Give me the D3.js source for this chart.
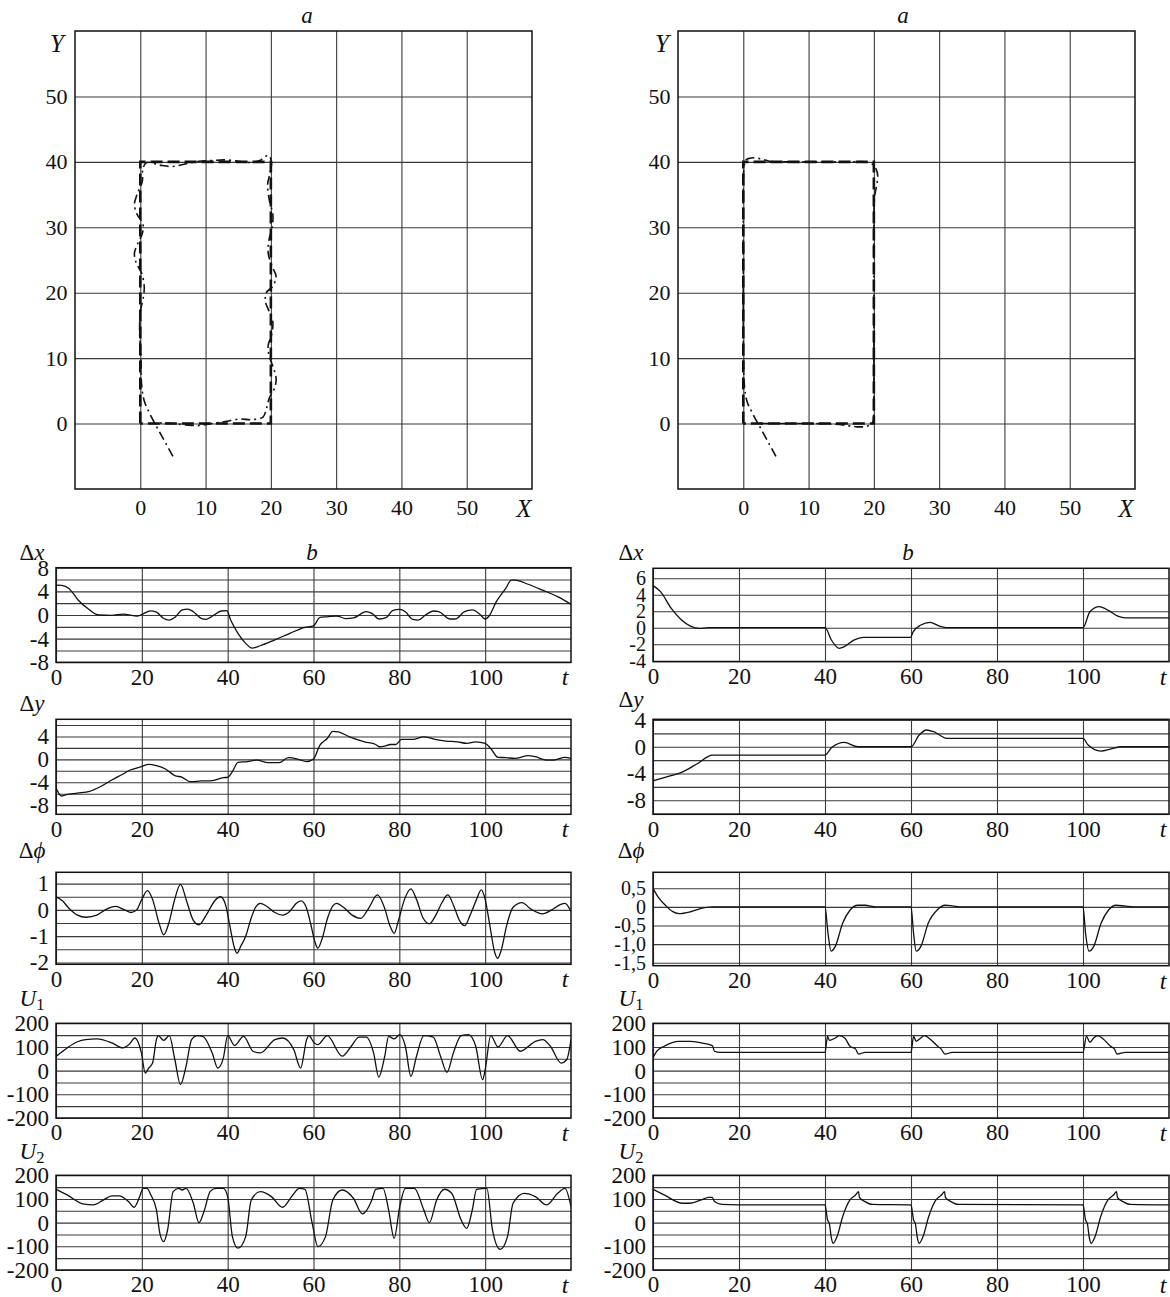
<!DOCTYPE html>
<html>
<head>
<meta charset="utf-8">
<script src="https://cdn.jsdelivr.net/npm/d3@7"></script>
<style>
  body { margin: 0; background: #fff; }
  svg { display: block; }
  text { font-family: "Liberation Serif", "DejaVu Serif", serif; fill: #111; }
</style>
</head>
<body>
<svg id="chart" width="1170" height="1297"></svg>
<script>
// ---------- plane (X, Y) plots ----------
const planeTicks = [0, 10, 20, 30, 40, 50];
const planeDomain = [-10, 60];

// desired rectangular route
const routePath = [[0, 0], [0, 40], [20, 40], [20, 0], [0, 0]];

// robot path, PD controller (left)
const robotLeft = [
  [5, -5], [3.9, -3], [2.8, -1], [1.6, 1.2], [0.6, 3.5], [0.2, 6], [0.1, 10], [-0.1, 14], [0, 17],
  [0.5, 19.5], [0.6, 21], [0.2, 23], [-0.6, 24.5], [-0.9, 26], [-0.4, 27.5], [0.3, 29], [0.4, 30.5],
  [-0.5, 32], [-0.9, 33.5], [-0.5, 35], [0.3, 37], [0.4, 39], [1, 39.9], [3, 39.5], [5, 39.3],
  [7, 39.7], [9, 40.1], [11, 40.2], [13, 40.3], [15, 40.1], [17, 39.9], [18.5, 40.3], [19.6, 41],
  [20.1, 40], [19.8, 38], [19.5, 36.5], [19.8, 34], [20.3, 32], [20.2, 30], [19.7, 28], [19.6, 26],
  [20.2, 24], [20.8, 22.5], [20.3, 21], [19.3, 20], [19.2, 18.5], [19.8, 17], [20.3, 15.5],
  [20.1, 13.5], [19.6, 12], [19.7, 10.5], [20.4, 8.5], [20.8, 7], [20.6, 5.5], [19.8, 4],
  [19.3, 2.2], [18.8, 1], [17, 0.6], [15.3, 0.7], [13, 0.3], [11, 0], [9, -0.3], [7, -0.2],
  [5, 0], [3.5, 0.1], [2.2, 0]
];

// robot path, second controller (right)
const robotRight = [
  [5, -5], [3.9, -3], [2.7, -0.8], [1.5, 1.4], [0.6, 3.3], [0.2, 5.5], [0.05, 9], [0, 15], [0, 22],
  [0, 30], [0, 36], [0.1, 39], [0.4, 40.3], [1.2, 40.6], [2.5, 40.5], [4, 40.1], [7, 40], [12, 40],
  [16, 40], [18.5, 40], [19.7, 39.7], [20.3, 39], [20.6, 37.8], [20.4, 36.3], [20.1, 34.5], [20, 30],
  [20, 20], [20, 10], [20, 4], [20, 1.5], [19.8, 0.1], [19, -0.4], [17.5, -0.5], [16, -0.3],
  [14, -0.1], [11, 0], [7, 0], [4, 0], [2.2, 0]
];

// ---------- time plots ----------
const timeTicks = [0, 20, 40, 60, 80, 100];

const dxLeft = [
  [0, 5.05], [1.3, 5], [3, 4.5], [5.2, 2.5], [7.4, 1.1], [10, 0], [13, -0.05], [15.6, 0.15], [19, -0.2],
  [20.3, 0.2], [22, 0.7], [23.4, 0.5], [25, -0.55], [26.4, -0.85], [27.7, -0.4], [29.4, 0.85],
  [30.7, 1.0], [32, 0.56], [33.8, -0.56], [35, -0.73], [36.8, 0], [38.5, 0.68], [39.8, 0.73],
  [40.7, -0.85], [42.4, -3.1], [44.2, -4.8], [45.7, -5.6], [47.6, -5.2], [51, -4.2], [54.5, -3.1],
  [58, -2.1], [60, -1.85], [61.5, -0.4], [63.2, -0.3], [65.4, -0.17], [67.5, -0.6], [69.3, -0.5],
  [72.3, 0.56], [73.6, 0.28], [75.3, -0.68], [77, -0.4], [78.4, 0.73], [80.1, 0.96], [81.4, 0.56],
  [83.1, -0.73], [84.4, -0.85], [86.1, 0], [87.9, 0.68], [89.2, 0.56], [91.8, -0.68], [93, -0.68],
  [95.2, 0.56], [97, 0.85], [98.7, 0.17], [100, -0.68], [100.9, -0.17], [102.6, 2.25], [104.8, 4.5],
  [106.1, 5.9], [107, 5.9], [110, 5.2], [113.4, 4.2], [116.9, 3.1], [120, 1.8]
];

const dyLeft = [
  [0, -5.0], [1.3, -6.4], [2.2, -6.2], [5, -5.9], [7.8, -5.6], [10.5, -4.7], [13, -3.6], [15.5, -2.6],
  [17.3, -1.86], [19.9, -1.28], [21.6, -0.87], [23.4, -1.1], [25.5, -1.68], [27.7, -2.84],
  [29.4, -3.13], [31.2, -3.9], [33.8, -3.77], [36.4, -3.7], [39, -3.2], [40, -3.13], [41.1, -2.14],
  [42.4, -0.52], [44.6, -0.4], [46.8, -0.12], [49.4, -0.58], [52, -0.58], [54.1, 0.29], [56.3, 0.06],
  [58.4, -0.4], [60, 0.06], [61.5, 2.5], [63.2, 3.65], [64.5, 4.9], [65.8, 4.8], [68.4, 3.94],
  [71.9, 3.07], [74.5, 2.6], [75.3, 2.2], [76.6, 2.3], [77.9, 2.6], [79.2, 2.6], [80.5, 3.5],
  [83.1, 3.5], [85.7, 3.94], [88.3, 3.5], [90.9, 3.2], [93.5, 3.07], [95.7, 2.8], [97.8, 3.07],
  [100, 2.8], [101.3, 1.9], [103, 0.35], [104.8, 0.3], [106.9, 0.17], [110, 0.64], [111.7, 0.46],
  [114.3, -0.12], [116, -0.12], [118.6, 0.35], [120, 0.17]
];

const phiLeft = [
  [0, 0.5], [1.5, 0.35], [3, 0.06], [5, -0.2], [7, -0.28], [9.5, -0.2], [12, 0.05], [13.9, 0.13],
  [16, 0.0], [17.5, -0.1], [18.8, 0], [20, 0.4], [21.3, 0.73], [22.5, 0.4], [24, -0.5], [25.1, -0.95],
  [26.3, -0.5], [27.5, 0.3], [29, 0.97], [30.5, 0.3], [32, -0.4], [33.3, -0.57], [35, -0.2],
  [37, 0.35], [38.3, 0.5], [39.5, 0.2], [40.5, -0.6], [41.5, -1.4], [42.2, -1.65], [43, -1.4],
  [44.2, -1.0], [45.5, -0.3], [46.5, 0.1], [47.6, 0.25], [49, 0.15], [51, -0.1], [52.8, -0.2],
  [54.5, -0.05], [56, 0.25], [57.1, 0.34], [58.3, 0.1], [59.3, -0.5], [60.3, -1.2], [61, -1.46],
  [62, -1.1], [63.3, -0.3], [64.5, 0.15], [65.4, 0.25], [67, 0.1], [69, -0.2], [71, -0.32],
  [72.8, 0.05], [74.9, 0.57], [76.5, 0.1], [77.8, -0.6], [78.8, -0.89], [79.8, -0.4], [81.2, 0.4],
  [82.7, 0.8], [84, 0.4], [85.5, -0.3], [87, -0.53], [88.5, -0.2], [90, 0.3], [91.3, 0.57],
  [92.8, 0.1], [94, -0.4], [95.2, -0.6], [96.5, -0.2], [98, 0.4], [99.1, 0.76], [100, 0.4],
  [101, -0.5], [102.2, -1.6], [102.9, -1.84], [103.8, -1.5], [105, -0.6], [106.5, 0.1],
  [108.6, 0.28], [110.5, 0.05], [113.4, -0.15], [115.5, 0.0], [117.5, 0.2], [118.6, 0.25], [120, -0.06]
];

const u1Left = [
  [0, 60], [2.6, 96], [5, 122], [6.9, 131], [9.5, 134], [13, 117], [15.6, 96], [17, 110], [18.4, 138],
  [19.9, 75], [20.8, -10], [21.6, 11], [22.5, 32], [23.4, 131], [23.8, 148], [25.1, 128], [26.4, 148],
  [27.7, 46], [29, -59], [30.3, 18], [31.6, 131], [32.9, 148], [34.2, 145], [36.4, 75], [37.7, 11],
  [39, 54], [40, 148], [41.6, 106], [43.7, 145], [45.9, 82], [47.6, 75], [51, 131], [52.8, 138],
  [55.4, 89], [57, 11], [58.4, 131], [58.9, 148], [60.2, 117], [61, 110], [63.2, 148], [66.7, 61],
  [68.8, 103], [70.6, 142], [72.3, 142], [74, 75], [75.2, -27], [76.6, 61], [77.5, 145], [78.8, 134],
  [80.1, 152], [81.4, 103], [82.7, -24], [84, 61], [85.7, 148], [87.9, 142], [89.6, 61], [91.1, -7],
  [92.6, 75], [94.4, 148], [96.1, 152], [97.8, 103], [99.4, -38], [100, 4], [101.3, 148], [103, 100],
  [105.2, 148], [108.2, 82], [111.7, 124], [113.4, 131], [115.2, 103], [117.7, 32], [119, 46], [120, 131]
];

const u2Left = [
  [0, 141], [2.6, 117], [6.5, 78], [8.7, 75], [11, 95], [13, 113], [14.7, 113], [16.9, 89], [18.2, 65],
  [19.5, 110], [20.3, 145], [21.2, 145], [22.1, 117], [23.4, 54], [24.2, -45], [25.1, -80], [26, -31],
  [27.3, 131], [28.6, 145], [29.4, 138], [30.3, 145], [32, 82], [33.3, 0], [34.6, 54], [35.9, 131],
  [37.2, 145], [39, 145], [40, 110], [41.1, -59], [42.4, -108], [44.2, -59], [45.5, 96], [47.6, 131],
  [50.2, 110], [52.8, 65], [54.9, 110], [56.7, 145], [58, 141], [59.7, -3], [61, -101], [62.8, -59],
  [64.5, 96], [66.7, 138], [69.3, 103], [71.4, 37], [73.6, 96], [74.5, 141], [76.2, 145], [77.5, 54],
  [78.8, -66], [80.1, 68], [81.4, 145], [83.5, 145], [85.7, 54], [87, 0], [88.7, 96], [90.5, 141],
  [92.2, 124], [94.4, 11], [95.7, -24], [97, 54], [98, 141], [100.4, 145], [101.7, -31], [103.5, -113],
  [105.2, -59], [106.5, 82], [109.1, 124], [111.7, 110], [114.3, 75], [116.9, 124], [118.6, 145], [120, 68]
];

const dxRight = [
  [0, 5.1], [1.7, 4.4], [4.3, 2.3], [6.5, 1.0], [8.7, 0.2], [10.8, -0.08], [13, 0], [40, 0],
  [41.5, -1.5], [43.3, -2.5], [44.5, -2.3], [46.7, -1.5], [48.9, -1.17], [59.9, -1.17], [60.5, -0.5],
  [62.3, 0.32], [64.4, 0.65], [66.6, 0.2], [68.3, 0], [100, 0], [101.6, 1.94], [103.8, 2.55],
  [105.9, 2.1], [108.1, 1.4], [109.9, 1.2], [120, 1.2]
];

const dyRight = [
  [0, -5.1], [2.6, -4.6], [6.9, -3.75], [10.4, -2.5], [13.8, -1.25], [40, -1.25], [41.5, -0.15],
  [44.5, 0.65], [47.6, 0], [60, 0], [61.9, 1.75], [63.6, 2.5], [65.3, 2.25], [68.3, 1.25], [100, 1.25],
  [101.2, 0.25], [104.2, -0.65], [106.4, -0.35], [109, 0], [120, 0]
];

const phiRight = [
  [0, 0.5], [1.3, 0.25], [3, 0.03], [4.5, -0.12], [6, -0.18], [8.7, -0.13], [11.2, -0.04], [13.8, 0],
  [40, 0], [40.7, -0.71], [41.4, -1.19], [42.4, -1.06], [44.1, -0.44], [45.8, -0.09], [47.6, 0.045],
  [49.3, 0.045], [51.9, 0], [60, 0], [60.6, -0.71], [61.2, -1.19], [62.3, -1.06], [64, -0.44],
  [66.2, -0.07], [67.9, 0.045], [69.6, 0.03], [71.8, 0], [100, 0], [100.6, -0.71], [101.4, -1.19],
  [102.5, -1.06], [104.2, -0.44], [105.9, -0.09], [107.7, 0.045], [109.9, 0.02], [112.5, 0], [120, 0]
];

const u1Right = [
  [0, 54], [0.9, 82], [2.6, 103], [6, 124], [8.7, 124], [11.2, 117], [13.8, 106], [14.3, 82], [15.6, 77],
  [40, 77], [40.6, 145], [41, 128], [42.4, 138], [43.3, 148], [44.6, 138], [45.8, 103], [47.1, 92],
  [47.8, 70], [49.3, 77], [60, 77], [60.6, 145], [61.2, 124], [62.3, 138], [63.1, 148], [64.4, 134],
  [66.2, 103], [67, 92], [67.9, 70], [69.6, 77], [100, 77], [100.8, 145], [101.6, 120], [102.5, 138],
  [103.4, 148], [104.7, 134], [106.4, 103], [107.3, 92], [107.9, 70], [109.9, 77], [120, 77]
];

const u2Right = [
  [0, 141], [2.6, 117], [6.9, 82], [8.7, 82], [11.2, 96], [13, 107], [13.8, 107], [14.3, 89], [16, 77],
  [19.9, 75], [40, 75], [40.6, 11], [41, -3], [41.5, -66], [41.9, -87], [42.8, -59], [44.1, 25],
  [45.8, 96], [47.1, 117], [47.8, 131], [48, 107], [49.3, 89], [51, 77], [60, 75], [60.6, 11], [61, -3],
  [61.5, -66], [61.9, -87], [62.8, -59], [64.1, 25], [65.8, 96], [67.1, 117], [67.8, 131], [68, 107],
  [69.3, 89], [71, 77], [100, 75], [100.6, 11], [101, -3], [101.5, -66], [101.9, -87], [102.8, -59],
  [104.1, 25], [105.8, 96], [107.1, 117], [107.8, 131], [108, 107], [109.3, 89], [111, 77], [120, 75]
];

// value-axis gridlines and labelled values
const dxLeftGrid = [-8, -6, -4, -2, 0, 2, 4, 6, 8];
const dxLeftLabels = [8, 4, 0, -4, -8];
const dyLeftGrid = [-8, -6, -4, -2, 0, 2, 4, 6];
const dyLeftLabels = [4, 0, -4, -8];
const phiLeftGrid = [-2, -1.5, -1, -0.5, 0, 0.5, 1];
const phiLeftLabels = [1, 0, -1, -2];
const uGrid = [-200, -150, -100, -50, 0, 50, 100, 150, 200];
const uLabels = [200, 100, 0, -100, -200];
const dxRightGrid = [-4, -2, 0, 2, 4, 6];
const dxRightLabels = [6, 4, 2, 0, -2, -4];
const dyRightGrid = [-10, -8, -6, -4, -2, 0, 2, 4];
const dyRightLabels = [4, 0, -4, -8];
const phiRightGrid = [-1.5, -1, -0.5, 0, 0.5];
const phiRightLabels = [0.5, 0, -0.5, -1, -1.5];
const phiRightLabelText = ["0,5", "0", "-0,5", "-1,0", "-1,5"];

// ---------- drawing ----------
const svg = d3.select("#chart");
const GRID = "#3a3a3a";
const INK = "#111";

function styleAxis(g, size) {
  g.attr("font-family", null).attr("font-size", null);
  g.select(".domain").remove();
  g.selectAll(".tick line").attr("stroke", GRID).attr("stroke-width", 1.1);
  g.selectAll(".tick text").attr("font-size", size).attr("fill", INK);
}

function nameLabel(x, y, parts, size) {
  const t = svg.append("text")
    .attr("x", x).attr("y", y)
    .attr("text-anchor", "middle")
    .attr("dominant-baseline", "central")
    .attr("font-size", size);
  parts.forEach(p => {
    const s = t.append("tspan").text(p.t);
    if (p.it) s.attr("font-style", "italic");
    if (p.sub) s.attr("font-size", size * 0.72).attr("dy", "0.35em");
  });
  return t;
}

// ---- plane plots ----
const planeTop = 31, planeBottom = 489;
const planes = [
  { left: 75, right: 532, robot: robotLeft, titleX: 307, yLabX: 57, xLabX: 524 },
  { left: 678, right: 1135, robot: robotRight, titleX: 903, yLabX: 662, xLabX: 1126 }
];

planes.forEach(cfg => {
  const x = d3.scaleLinear().domain(planeDomain).range([cfg.left, cfg.right]);
  const y = d3.scaleLinear().domain(planeDomain).range([planeBottom, planeTop]);
  const w = cfg.right - cfg.left, h = planeBottom - planeTop;
  const g = svg.append("g");

  const gx = g.append("g").attr("transform", `translate(0,${planeBottom})`)
    .call(d3.axisBottom(x).tickValues(planeTicks).tickSize(-h).tickPadding(10).tickFormat(String));
  styleAxis(gx, 22);
  const gy = g.append("g").attr("transform", `translate(${cfg.left},0)`)
    .call(d3.axisLeft(y).tickValues(planeTicks).tickSize(-w).tickPadding(7.5).tickFormat(String));
  styleAxis(gy, 22);

  g.append("rect").attr("x", cfg.left).attr("y", planeTop).attr("width", w).attr("height", h)
    .attr("fill", "none").attr("stroke", INK).attr("stroke-width", 1.5);

  const line = d3.line().x(d => x(d[0])).y(d => y(d[1]));
  g.append("path").datum(routePath).attr("d", line)
    .attr("fill", "none").attr("stroke", INK).attr("stroke-width", 2.6)
    .attr("stroke-dasharray", "12,5");
  g.append("path").datum(cfg.robot).attr("d", line.curve(d3.curveCatmullRom.alpha(0.5)))
    .attr("fill", "none").attr("stroke", INK).attr("stroke-width", 1.6)
    .attr("stroke-dasharray", "9,4,2,4");

  nameLabel(cfg.titleX, 15, [{ t: "a", it: true }], 23);
  nameLabel(cfg.yLabX, 43, [{ t: "Y", it: true }], 25);
  nameLabel(cfg.xLabX, 508, [{ t: "X", it: true }], 25);
});

// ---- time plots ----
const sides = {
  L: { left: 56, right: 571, nameX: 32, titleX: 312 },
  R: { left: 653, right: 1169, nameX: 631, titleX: 908 }
};

const panels = [
  { side: "L", top: 567.7, bottom: 662.3, domain: [-8, 8], grid: dxLeftGrid, labels: dxLeftLabels, data: dxLeft, name: [{ t: "Δ" }, { t: "x", it: true }], nameY: 552, title: true },
  { side: "L", top: 719.3, bottom: 814.3, domain: [-9.6, 7.0], grid: dyLeftGrid, labels: dyLeftLabels, data: dyLeft, name: [{ t: "Δ" }, { t: "y", it: true }], nameY: 703 },
  { side: "L", top: 872.3, bottom: 964.3, domain: [-2.07, 1.43], grid: phiLeftGrid, labels: phiLeftLabels, data: phiLeft, name: [{ t: "Δ" }, { t: "ϕ", it: true }], nameY: 850 },
  { side: "L", top: 1023.3, bottom: 1118, domain: [-200, 200], grid: uGrid, labels: uLabels, data: u1Left, name: [{ t: "U", it: true }, { t: "1", sub: true }], nameY: 998 },
  { side: "L", top: 1175.3, bottom: 1270, domain: [-200, 200], grid: uGrid, labels: uLabels, data: u2Left, name: [{ t: "U", it: true }, { t: "2", sub: true }], nameY: 1151 },
  { side: "R", top: 568.3, bottom: 661.7, domain: [-4.12, 7.2], grid: dxRightGrid, labels: dxRightLabels, data: dxRight, name: [{ t: "Δ" }, { t: "x", it: true }], nameY: 552, title: true, labelSize: 20 },
  { side: "R", top: 719.3, bottom: 814.3, domain: [-10.1, 4.1], grid: dyRightGrid, labels: dyRightLabels, data: dyRight, name: [{ t: "Δ" }, { t: "y", it: true }], nameY: 699 },
  { side: "R", top: 872.3, bottom: 965.7, domain: [-1.58, 0.93], grid: phiRightGrid, labels: phiRightLabels, labelText: phiRightLabelText, data: phiRight, name: [{ t: "Δ" }, { t: "ϕ", it: true }], nameY: 850, labelSize: 20 },
  { side: "R", top: 1023.3, bottom: 1118, domain: [-200, 200], grid: uGrid, labels: uLabels, data: u1Right, name: [{ t: "U", it: true }, { t: "1", sub: true }], nameY: 998 },
  { side: "R", top: 1175.3, bottom: 1270, domain: [-200, 200], grid: uGrid, labels: uLabels, data: u2Right, name: [{ t: "U", it: true }, { t: "2", sub: true }], nameY: 1151 }
];

panels.forEach((p, i) => {
  const fr = sides[p.side];
  const x = d3.scaleLinear().domain([0, 120]).range([fr.left, fr.right]);
  const y = d3.scaleLinear().domain(p.domain).range([p.bottom, p.top]);
  const w = fr.right - fr.left, h = p.bottom - p.top;
  const g = svg.append("g");

  const gx = g.append("g").attr("transform", `translate(0,${p.bottom})`)
    .call(d3.axisBottom(x).tickValues(timeTicks).tickSize(-h).tickPadding(6).tickFormat(String));
  styleAxis(gx, 23);

  const fmt = v => {
    const k = p.labels.indexOf(v);
    if (k < 0) return "";
    return p.labelText ? p.labelText[k] : String(v);
  };
  const gy = g.append("g").attr("transform", `translate(${fr.left},0)`)
    .call(d3.axisLeft(y).tickValues(p.grid.concat(p.labels.filter(v => !p.grid.includes(v))))
      .tickSize(-w).tickPadding(7).tickFormat(fmt));
  styleAxis(gy, p.labelSize || 23);

  g.append("rect").attr("x", fr.left).attr("y", p.top).attr("width", w).attr("height", h)
    .attr("fill", "none").attr("stroke", INK).attr("stroke-width", 1.5);

  const clipId = "clip" + i;
  svg.append("clipPath").attr("id", clipId).append("rect")
    .attr("x", fr.left).attr("y", p.top).attr("width", w).attr("height", h);

  g.append("path").datum(p.data)
    .attr("clip-path", `url(#${clipId})`)
    .attr("d", d3.line().x(d => x(d[0])).y(d => y(d[1])).curve(d3.curveMonotoneX))
    .attr("fill", "none").attr("stroke", INK).attr("stroke-width", 1.3);

  g.append("text").attr("x", x(118.6)).attr("y", p.bottom + 6).attr("dy", "0.71em")
    .attr("text-anchor", "middle").attr("font-size", 24).attr("font-style", "italic").text("t");

  nameLabel(fr.nameX, p.nameY, p.name, 23);
  if (p.title) nameLabel(fr.titleX, p.nameY, [{ t: "b", it: true }], 23);
});
</script>
</body>
</html>
